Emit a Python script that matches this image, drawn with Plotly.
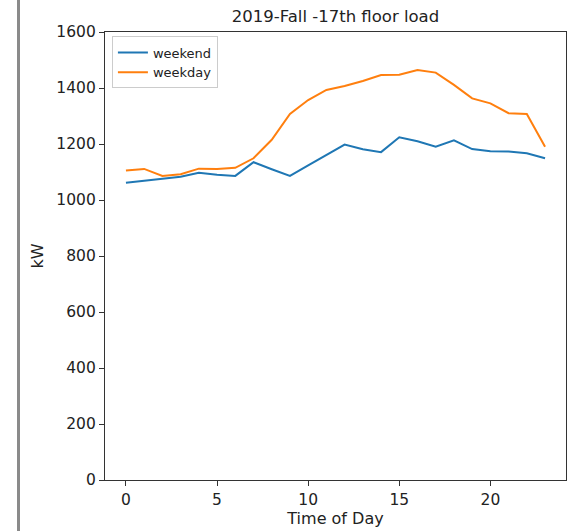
import plotly.graph_objects as go

# Hourly average load on the 17th floor, fall 2019
hours = list(range(24))
weekend_kw = [1062, 1069, 1077, 1083, 1097, 1090, 1086, 1135, 1110, 1086,
              1124, 1162, 1198, 1181, 1171, 1224, 1210, 1190, 1213, 1182,
              1174, 1173, 1167, 1149]
weekday_kw = [1105, 1111, 1086, 1092, 1112, 1111, 1115, 1149, 1215, 1307,
              1357, 1393, 1407, 1425, 1446, 1447, 1464, 1455, 1411, 1363,
              1345, 1310, 1307, 1190]

x_ticks = [0, 5, 10, 15, 20]
y_ticks = [0, 200, 400, 600, 800, 1000, 1200, 1400, 1600]

FONT = "DejaVu Sans"
AXIS_COLOR = "#333333"
TEXT_COLOR = "#222222"

fig = go.Figure()
fig.add_trace(go.Scatter(x=hours, y=weekend_kw, mode="lines", name="weekend",
                         line=dict(color="#1f77b4", width=2)))
fig.add_trace(go.Scatter(x=hours, y=weekday_kw, mode="lines", name="weekday",
                         line=dict(color="#ff7f0e", width=2)))

axis_common = dict(
    showgrid=False, zeroline=False, showline=True, mirror=True,
    linecolor=AXIS_COLOR, linewidth=1.2,
    ticks="outside", ticklen=5, tickwidth=1, tickcolor=AXIS_COLOR,
    tickfont=dict(family=FONT, size=15.5, color=TEXT_COLOR),
)

fig.update_layout(
    width=570, height=531,
    margin=dict(l=105, r=4, t=32, b=51),
    paper_bgcolor="white", plot_bgcolor="white",
    font=dict(family=FONT, color=TEXT_COLOR),
    title=dict(text="2019-Fall -17th floor load", x=0.5, xref="paper",
               xanchor="center", y=1 - 16 / 531, yanchor="middle",
               font=dict(family=FONT, size=16.5, color=TEXT_COLOR)),
    xaxis=dict(range=[-1.15, 24.15], tickvals=x_ticks,
               title=dict(text="Time of Day", standoff=4,
                          font=dict(family=FONT, size=16, color=TEXT_COLOR)),
               **axis_common),
    yaxis=dict(range=[0, 1600], tickvals=y_ticks,
               title=dict(text="kW", standoff=8,
                          font=dict(family=FONT, size=16, color=TEXT_COLOR)),
               **axis_common),
    legend=dict(x=0.015, y=0.99, xanchor="left", yanchor="top",
                bgcolor="rgba(255,255,255,0.9)", bordercolor="#cccccc",
                borderwidth=1, font=dict(family=FONT, size=13, color=TEXT_COLOR),
                tracegroupgap=0, itemwidth=30),
    showlegend=True,
)

# Gray divider running down the left side of the page
fig.add_shape(type="line", xref="paper", yref="paper",
              x0=(18.5 - 105) / 461, x1=(18.5 - 105) / 461,
              y0=-0.2, y1=1.2, line=dict(color="#8a8a8a", width=3))

fig.write_html("out.html")
